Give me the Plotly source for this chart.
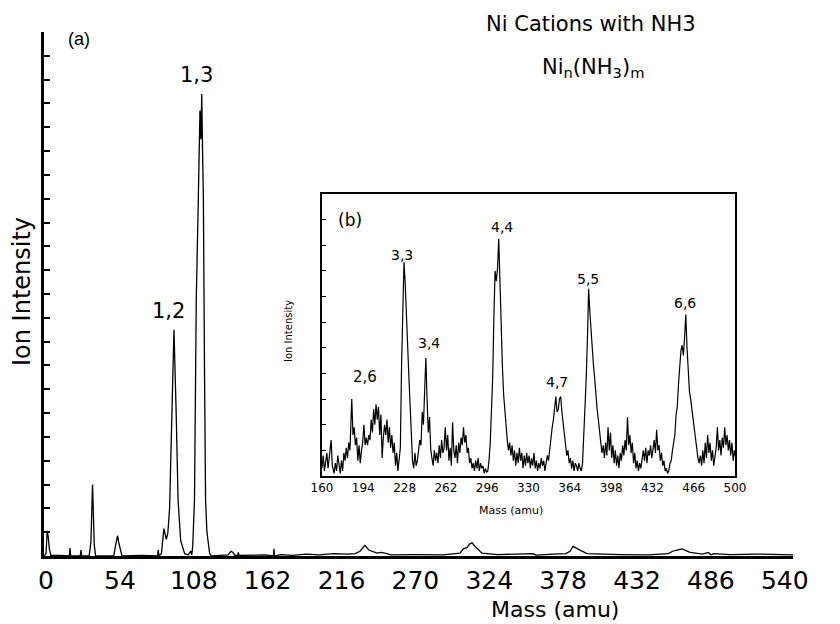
import plotly.graph_objects as go

# ---------------- data ----------------
main_ticks = [0, 54, 108, 162, 216, 270, 324, 378, 432, 486, 540]
inset_ticks = [160, 194, 228, 262, 296, 330, 364, 398, 432, 466, 500]

main_mass = [-1.5, 0, 0.8, 1.6, 2.4, 3.5, 10,
             17.0, 17.5, 18.0, 25.0, 25.5, 26.0,
             31.5, 32.8, 33.6, 34.0, 34.5, 35.2, 36.2,
             49.5, 51.0, 52.3, 53.0, 54.0, 55.5, 70,
             81.5, 82.0, 82.5, 84.3, 86.2, 87.9, 89.0, 90.3, 91.5, 93.5, 95.2, 96.5, 98.4, 101.3,
             104.0, 105.8, 106.5, 107.2, 108.5, 109.8, 111.2, 112.5, 113.2, 113.8, 114.4, 115.0,
             115.8, 116.6, 117.6, 119.6, 121.0,
             133, 135.2, 136.7, 138, 140, 140.5, 141, 160, 166.2, 166.6, 167.0, 172,
             180, 190, 200, 210, 220, 226, 229.5, 233.1, 236, 241.9, 245, 249.2, 252,
             270, 290, 302.6, 305, 307.7, 309.5, 311.4, 313.6, 318.7, 330,
             356, 358, 370.6, 380, 383, 385.2, 390.3, 395.4,
             420, 440, 455, 458, 461.2, 464.9, 470.7, 480, 484, 486, 488, 500, 520, 546]
main_intensity = [0, 0.1, 1.05, 0.8, 0.3, 0.03, 0.02,
                  0, 0.33, 0, 0, 0.25, 0,
                  0, 0.6, 2.2, 3.0, 2.0, 0.5, 0,
                  0, 0.5, 0.85, 0.6, 0.3, 0, 0.02,
                  0, 0.25, 0, 0.1, 1.15, 0.7, 0.95, 2.0, 5.2, 9.5, 5.8, 2.35, 0.65, 0.1,
                  0.05, 0.2, 0.05, 0.4, 2.35, 10.75, 14.7, 18.7, 17.5, 19.4, 17.0, 15.0,
                  8.0, 2.35, 1.0, 0.1, 0,
                  0.05, 0.2, 0.15, 0.03, 0.02, 0.15, 0.02, 0.05, 0, 0.3, 0, 0.06,
                  0.03, 0.08, 0.05, 0.1, 0.08, 0.1, 0.2, 0.45, 0.25, 0.12, 0.15, 0.1, 0.05,
                  0.06, 0.05, 0.12, 0.3, 0.35, 0.5, 0.55, 0.4, 0.12, 0.06,
                  0.1, 0.04, 0.08, 0.1, 0.2, 0.4, 0.25, 0.1,
                  0.06, 0.05, 0.1, 0.2, 0.25, 0.3, 0.15, 0.08, 0.15, 0.05, 0.1, 0.06, 0.08, 0.05]

inset_mass = [160, 161, 162, 163, 164, 165, 166, 167.5, 168.5, 170, 171, 172, 173, 174,
              175, 176, 177, 178, 179, 180, 181, 182, 183,
              184.5, 185.5, 186.5, 187.5, 188.5, 189.5, 190.5, 191.5, 192.5, 193.5,
              194.5, 195.5, 196.5, 197.5, 198.5, 199.5, 200.5, 201.5, 202.5, 203.5,
              204.5, 205.5, 206.5, 207.5, 208.5, 209.5, 210.5, 211.5, 212.5, 213.5,
              214.5, 215.5, 216.5, 217.5, 218.5, 219.5, 220.5, 221.5, 222.5, 223.5,
              224.5, 225.5, 226.5, 227.5, 228.5, 229.5, 230.5, 231.5, 232.5, 233.5,
              234.5, 235.5, 236.5, 237.5, 238.5, 239.5, 240.5, 241.5, 242.5, 243.5,
              244.5, 245.5, 246.5, 247.5, 248.5, 249.5, 250.5, 251.5, 252.5, 253.5,
              254.5, 255.5, 256.5, 257.5, 258.5, 259.5, 260.5, 261.5, 262.5, 263.5,
              264.5, 265.5, 266.5, 267.5, 268.5, 269.5, 270.5, 271.5, 272.5, 273.5,
              274.5, 275.5, 276.5, 277.5, 278.5, 279.5, 280.5, 281.5, 282.5, 283.5,
              284.5, 285.5, 286.5, 287.5, 288.5, 289.5, 290.5, 291.5, 292.5, 293.5,
              294.5, 295.5, 296.5, 297.5, 298.5, 299.5, 300.5, 301.5, 302.5, 303.5,
              304.5, 305.5, 306.5, 307.5, 308.5, 309.5, 310.5, 311.5, 312.5, 313.5,
              314.5, 315.5, 316.5, 317.5, 318.5, 319.5, 320.5, 321.5, 322.5, 323.5,
              324.5, 325.5, 326.5, 327.5, 328.5, 329.5, 330.5, 331.5, 332.5, 333.5,
              334.5, 335.5, 336.5, 337.5, 338.5, 339.5, 340.5, 341.5, 342.5, 343.5,
              344.5, 345.5, 346.5, 347.5, 348.5, 349.5, 350.5, 351.5, 352.5, 353.5,
              354.5, 355.5, 356.5, 357.5, 358.5, 359.5, 360.5, 361.5, 362.5, 363.5,
              364.5, 365.5, 366.5, 367.5, 368.5, 369.5, 370.5, 371.5, 372.5, 373.5,
              374.5, 375.5, 376.5, 377.5, 378.5, 379.5, 380.5, 381.5, 382.5, 383.5,
              384.5, 385.5, 386.5, 387.5, 388.5, 389.5, 390.5, 391.5, 392.5, 393.5,
              394.5, 395.5, 396.5, 397.5, 398.5, 399.5, 400.5, 401.5, 402.5, 403.5,
              404.5, 405.5, 406.5, 407.5, 408.5, 409.5, 410.5, 411.5, 412.5, 413.5,
              414.5, 415.5, 416.5, 417.5, 418.5, 419.5, 420.5, 421.5, 422.5, 423.5,
              424.5, 425.5, 426.5, 427.5, 428.5, 429.5, 430.5, 431.5, 432.5, 433.5,
              434.5, 435.5, 436.5, 437.5, 438.5, 439.5, 440.5, 441.5, 442.5, 443.5,
              444.5, 445.5, 446.5, 447.5, 448.5, 449.5, 450.5, 451.5, 452.5, 453.5,
              454.5, 455.5, 456.5, 457.5, 458.5, 459.5, 460.5, 461.5, 462.5, 463.5,
              464.5, 465.5, 466.5, 467.5, 468.5, 469.5, 470.5, 471.5, 472.5, 473.5,
              474.5, 475.5, 476.5, 477.5, 478.5, 479.5, 480.5, 481.5, 482.5, 483.5,
              484.5, 485.5, 486.5, 487.5, 488.5, 489.5, 490.5, 491.5, 492.5, 493.5,
              494.5, 495.5, 496.5, 497.5, 498.5, 499.5, 500]
inset_intensity = [0.3, 0.8, 0.2, 0.6, 0.9, 0.3, 0.7, 1.4, 0.4, 0.1, 0.5, 0.2, 0.8, 0.3,
                   0.1, 0.6, 0.2, 0.9, 0.6, 1.1, 0.7, 1.3, 1.0,
                   3.0, 1.6, 1.9, 1.2, 1.5, 0.6, 1.2, 0.5, 1.0, 1.3,
                   2.0, 1.2, 1.5, 1.2, 1.6, 1.4, 2.2, 1.7, 2.6, 2.0,
                   2.8, 2.2, 2.7, 1.6, 2.4, 0.7, 1.5, 2.0, 1.6, 2.2,
                   1.3, 1.9, 1.1, 1.6, 0.9, 1.3, 0.4, 0.9, 0.2, 0.6,
                   1.1, 4.3, 6.5, 8.35, 7.5, 6.0, 5.2, 3.9, 2.8, 1.5,
                   0.6, 0.3, 0.9, 0.4, 0.6, 1.0, 1.4, 1.2, 2.5, 2.0,
                   3.1, 4.6, 3.0, 1.7, 2.3, 1.05, 0.7, 0.4, 1.0, 0.6,
                   0.9, 0.5, 1.2, 0.7, 1.4, 0.9, 1.1, 1.9, 1.0, 1.6,
                   0.6, 1.1, 0.4, 2.1, 1.0, 0.7, 1.2, 0.5, 1.3, 0.9,
                   1.5, 1.2, 1.9, 1.3, 1.6, 0.9, 1.1, 0.5, 0.7, 0.3,
                   0.5, 0.2, 0.6, 0.3, 0.7, 0.2, 0.5, 0.3, 0.4, 0.1,
                   0.3, 0.15, 0.2, 0.6, 1.3, 2.5, 3.8, 6.2, 8.0, 7.6,
                   8.1, 9.25, 7.2, 5.7, 4.3, 3.2, 2.5, 1.8, 1.4, 1.0,
                   1.3, 0.8, 1.2, 0.6, 1.0, 0.4, 0.9, 0.5, 1.1, 0.6,
                   0.9, 0.3, 0.8, 0.4, 0.9, 0.5, 0.8, 0.3, 0.7, 0.4,
                   0.9, 0.3, 0.6, 0.2, 0.5, 0.3, 0.7, 0.4, 0.6, 0.2,
                   0.5, 0.8, 0.6, 1.1, 1.5, 1.9, 2.2, 2.6, 3.1, 2.5,
                   2.6, 3.0, 3.1, 2.5, 2.0, 1.5, 1.2, 0.8, 1.0, 0.5,
                   0.7, 0.3, 0.6, 0.2, 0.5, 0.4, 0.2, 0.5, 0.3, 0.2,
                   0.5, 1.5, 2.8, 3.8, 5.3, 7.3, 6.4, 5.6, 4.8, 4.3,
                   3.8, 3.0, 2.6, 2.2, 1.6, 1.3, 0.9, 1.2, 0.7, 1.3,
                   0.8, 1.9, 1.0, 1.7, 0.7, 1.2, 0.5, 1.0, 0.4, 0.8,
                   0.3, 0.9, 0.6, 1.2, 0.8, 1.4, 1.0, 2.3, 1.2, 1.6,
                   0.9, 1.3, 0.5, 0.9, 0.3, 0.6, 0.2, 0.5, 0.3, 0.7,
                   1.0, 0.6, 1.1, 0.5, 1.0, 0.8, 1.2, 0.7, 1.0, 1.4,
                   0.9, 1.8, 1.0, 1.2, 0.6, 0.9, 0.4, 0.6, 0.2, 0.3,
                   0.1, 0.2, 0.5, 0.6, 1.0, 1.3, 1.6, 2.4, 2.7, 3.6,
                   4.4, 4.9, 5.1, 4.7, 5.4, 6.3, 5.0, 4.0, 3.3, 3.0,
                   2.6, 2.2, 1.8, 1.4, 1.1, 0.7, 0.5, 0.8, 0.4, 1.0,
                   0.5, 1.3, 0.7, 1.6, 0.9, 1.3, 0.6, 1.0, 0.4, 0.8,
                   1.1, 1.9, 1.0, 1.4, 0.8, 1.5, 1.1, 1.9, 1.2, 1.6,
                   1.0, 1.4, 0.8, 1.3, 0.6, 1.0, 0.8]

main_labels = ["1,2", "1,3"]
inset_labels = ["2,6", "3,3", "3,4", "4,4", "4,7", "5,5", "6,6"]

# ---------------- layout helpers (pixel -> paper) ----------------
W, H = 840, 624
L, R, T, B = 44, 47, 32, 68
PW, PH = W - L - R, H - T - B


def px(x, y):
    return (x - L) / PW, (H - B - y) / PH


FONT = "DejaVu Sans"

fig = go.Figure()
fig.add_trace(go.Scatter(x=main_mass, y=main_intensity, mode="lines",
                         line=dict(color="black", width=1.3),
                         xaxis="x", yaxis="y", hoverinfo="skip"))
fig.add_trace(go.Scatter(x=inset_mass, y=inset_intensity, mode="lines",
                         line=dict(color="black", width=1.2),
                         xaxis="x2", yaxis="y2", hoverinfo="skip"))

ix0, iy0 = px(322, 476)
ix1, iy1 = px(735, 194)

fig.update_layout(
    width=W, height=H,
    margin=dict(l=L, r=R, t=T, b=B),
    paper_bgcolor="white", plot_bgcolor="white",
    showlegend=False,
    font=dict(family=FONT, color="black"),
    xaxis=dict(range=[-1.5, 546], domain=[0, 1], tickvals=main_ticks,
               ticks="", showline=True, linewidth=2.5, linecolor="black",
               showgrid=False, zeroline=False,
               tickfont=dict(size=25, family=FONT), ticklabelstandoff=0),
    yaxis=dict(range=[0, 22], domain=[0, 1], dtick=1, tick0=0,
               ticks="inside", ticklen=6, tickwidth=1.5, tickcolor="black",
               showticklabels=False, showline=True, linewidth=2.5,
               linecolor="black", showgrid=False, zeroline=False),
    xaxis2=dict(range=[160, 500], domain=[ix0, ix1], anchor="y2",
                tickvals=inset_ticks, ticks="", showline=True, mirror=True,
                linewidth=1.5, linecolor="black", showgrid=False,
                zeroline=False, tickfont=dict(size=12, family=FONT)),
    yaxis2=dict(range=[0, 11], domain=[iy0, iy1], anchor="x2", dtick=1,
                tick0=0, ticks="inside", ticklen=4, tickwidth=1.2,
                tickcolor="black", showticklabels=False, showline=True,
                mirror=True, linewidth=1.5, linecolor="black",
                showgrid=False, zeroline=False),
)

ann = []


def add(text, x, y, size, angle=0, family=FONT):
    ax, ay = px(x, y)
    ann.append(dict(text=text, x=ax, y=ay, xref="paper", yref="paper",
                    xanchor="center", yanchor="middle", showarrow=False,
                    textangle=angle, font=dict(size=size, family=family,
                                               color="black")))


add("(a)", 79, 39, 18, family="Liberation Sans")
add(main_labels[1], 196, 75, 21)
add(main_labels[0], 168, 311, 21)
add("Ion Intensity", 22, 292, 24, angle=-90)
add("Mass (amu)", 555, 609, 22)
add("Ni Cations with NH3", 591, 24, 21)
add("Ni<sub>n</sub>(NH<sub>3</sub>)<sub>m</sub>", 593, 68, 21)

add("(b)", 350, 220, 17)
inset_pos = [(365, 377), (402, 255), (429, 343), (502, 227), (557, 382),
             (588, 279), (685, 303)]
for lab, (x, y) in zip(inset_labels, inset_pos):
    add(lab, x, y, 14 if lab != "2,6" else 15)
add("Ion Intensity", 288, 331, 10, angle=-90)
add("Mass (amu)", 511, 510, 11)

fig.update_layout(annotations=ann)
fig.write_html("out.html")
